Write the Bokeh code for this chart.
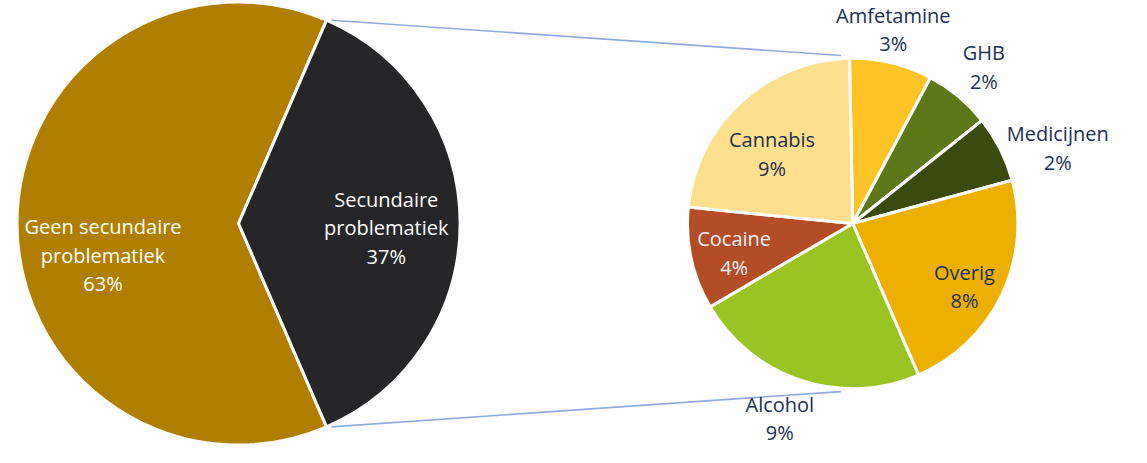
import numpy as np
from bokeh.plotting import figure
from bokeh.models import Range1d, ColumnDataSource
from bokeh.core.properties import value
from bokeh.embed import file_html
from bokeh.resources import INLINE

# ---------------- data ----------------
main_lines = [["Geen secundaire", "problematiek"], ["Secundaire", "problematiek"]]
main_values = [63, 37]
sub_labels = ["Amfetamine", "GHB", "Medicijnen", "Overig", "Alcohol", "Cocaine", "Cannabis"]
sub_values = [3.0, 2.4, 2.4, 8.4, 8.55, 3.7, 8.55]

# ---------------- style ----------------
main_colors = ["#B07F00", "#262628"]
main_text_colors = ["white", "white"]
sub_colors = ["#FEC325", "#5C7819", "#3A4B10", "#EDB000", "#99C424", "#B44C28", "#FDDF8E"]
sub_text_colors = ["#203050", "#203050", "#203050", "#203050", "#203050", "#F2F2F2", "#203050"]
connector_color = "#8FAADC"
FONT = "Open Sans"
FSIZE = "20px"

# layout in reference pixel units (x right, y down)
H = 463.0
main_c = (238.0, 233.5); main_r = 228.0
sub_c = (870.0, 233.5); sub_r = 170.0
sub_start_deg = 91.1
main_label_pos = [(98.5, 266.0), (390.0, 238.0)]
sub_label_pos = [(911.7, 34.0), (1005.0, 72.5), (1081.0, 156.0), (985.0, 298.3),
                 (795.0, 434.0), (748.0, 264.0), (787.0, 161.7)]
LINE = 29.5

def Y(y):
    return H - y

ylo, yhi = -1.0, 459.0
s = 447.0 / (yhi - ylo)
x0 = -7.0
p = figure(width=1131, height=447, output_backend="svg", toolbar_location=None,
           x_range=Range1d(x0, x0 + 1131.0 / s), y_range=Range1d(ylo, yhi),
           min_border=0)
p.axis.visible = False
p.grid.visible = False
p.outline_line_color = None
p.background_fill_color = "white"

# ---------------- main pie ----------------
tot = float(sum(main_values))
sec_sweep = 2 * np.pi * main_values[1] / tot
m_start = [sec_sweep / 2, -sec_sweep / 2]
m_end = [2 * np.pi - sec_sweep / 2, sec_sweep / 2]
p.wedge(x=main_c[0], y=Y(main_c[1]), radius=main_r, start_angle=m_start, end_angle=m_end,
        direction="anticlock", fill_color=main_colors, line_color="white", line_width=3)

# ---------------- sub pie ----------------
sub_tot = float(sum(sub_values))
ang = np.deg2rad(sub_start_deg)
s_start, s_end = [], []
for v in sub_values:
    sweep = 2 * np.pi * v / sub_tot
    s_end.append(ang)
    s_start.append(ang - sweep)
    ang -= sweep
p.wedge(x=sub_c[0], y=Y(sub_c[1]), radius=sub_r, start_angle=s_start, end_angle=s_end,
        direction="anticlock", fill_color=sub_colors, line_color="white", line_width=3)

# ---------------- connectors ----------------
half = sec_sweep / 2
xs0, ys0, xs1, ys1 = [], [], [], []
for sgn in (1, -1):
    xs0.append(main_c[0] + main_r * np.cos(half) + 5)
    ys0.append(Y(main_c[1]) + sgn * main_r * np.sin(half))
    a = np.deg2rad(94.0)
    xs1.append(sub_c[0] + 1.02 * sub_r * np.cos(a))
    ys1.append(Y(sub_c[1]) + sgn * 1.02 * sub_r * np.sin(a))
p.segment(x0=xs0, y0=ys0, x1=xs1, y1=ys1, line_color=connector_color, line_width=1.6)

# ---------------- labels ----------------
tx, ty, tt, tc = [], [], [], []
for lines, v, (lx, ly), col in zip(main_lines, main_values, main_label_pos, main_text_colors):
    allL = lines + [f"{int(v + 0.5)}%"]
    n = len(allL)
    for i, t in enumerate(allL):
        tx.append(lx); ty.append(Y(ly + (i - (n - 1) / 2) * LINE)); tt.append(t); tc.append(col)
for name, v, (lx, ly), col in zip(sub_labels, sub_values, sub_label_pos, sub_text_colors):
    allL = [name, f"{int(v + 0.5)}%"]
    n = len(allL)
    for i, t in enumerate(allL):
        tx.append(lx); ty.append(Y(ly + (i - (n - 1) / 2) * LINE)); tt.append(t); tc.append(col)

src = ColumnDataSource(dict(x=tx, y=ty, text=tt, color=tc))
p.text(x="x", y="y", text="text", source=src, text_color="color",
       text_align="center", text_baseline="middle",
       text_font=value(FONT), text_font_size=value(FSIZE))

open("out.html", "w").write(file_html(p, INLINE))
